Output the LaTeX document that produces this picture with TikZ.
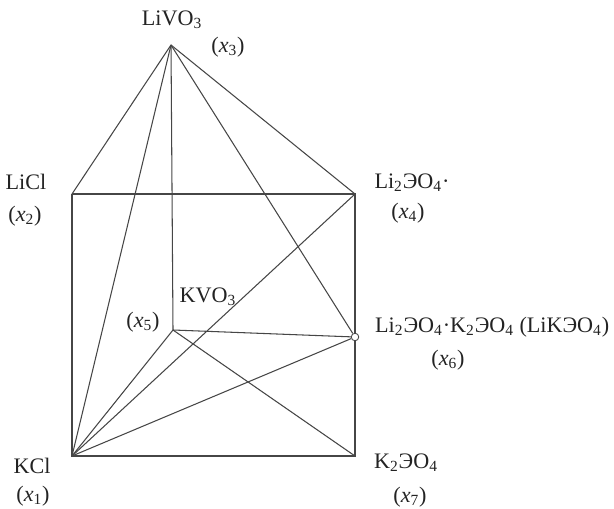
\documentclass[tikz,border=0pt]{standalone}
\usepackage{fontspec}
\setmainfont{Liberation Serif}
\usepackage{tikz}
\usepackage{xcolor}
\definecolor{linegray}{RGB}{70, 70, 70}
\definecolor{textgray}{RGB}{35, 35, 35}
\newcommand{\xlab}[1]{(\textit{x}\textsubscript{#1})}

\begin{document}
\begin{tikzpicture}[every node/.style={font=\fontsize{12.6}{15}\selectfont, text=textgray},
                    edge/.style={draw=linegray, line width=0.6pt},
                    pt/.style={circle, draw=linegray, fill=white, line width=0.5pt,
                               inner sep=0pt, minimum size=0.15cm}]
        \useasboundingbox (0,0) rectangle (12.28,10.16);

        % vertices of the prism
        \coordinate (livo) at (3.42,9.26);
        \coordinate (licl) at (1.44,6.28);
        \coordinate (li)   at (7.10,6.28);
        \coordinate (kvo)  at (3.46,3.56);
        \node[pt]  (lik)   at (7.10,3.42) {};
        \coordinate (kcl)  at (1.44,1.04);
        \coordinate (k)    at (7.10,1.04);

        % faces
        \draw[edge] (licl) -- (li) -- (lik) -- (k) -- (kcl) -- (licl);
        \draw[edge] (livo) -- (licl);
        \draw[edge] (livo) -- (li);
        \draw[edge] (livo) -- (kcl);
        \draw[edge] (livo) -- (kvo);
        \draw[edge] (livo) -- (lik);
        \draw[edge] (kcl)  -- (kvo);
        \draw[edge] (kcl)  -- (li);
        \draw[edge] (kcl)  -- (lik);
        \draw[edge] (kvo)  -- (lik);
        \draw[edge] (kvo)  -- (k);

        % labels
        \node (tlivo) at (3.44,9.76) {LiVO\textsubscript{3}};
        \node (xthree) at (4.56,9.22) {\xlab{3}};
        \node (tlicl) at (0.52,6.52) {LiCl};
        \node (xtwo) at (0.50,5.84) {\xlab{2}};
        \node (tli) at (8.24,6.50) {Li\textsubscript{2}ЭO\textsubscript{4}·};
        \node (xfour) at (8.16,5.90) {\xlab{4}};
        \node (tkvo) at (4.16,4.22) {KVO\textsubscript{3}};
        \node (xfive) at (2.86,3.72) {\xlab{5}};
        \node[anchor=west] (tlik) at (7.38,3.62)
          {Li\textsubscript{2}ЭO\textsubscript{4}·K\textsubscript{2}ЭO\textsubscript{4} (LiKЭO\textsubscript{4})};
        \node (xsix) at (8.96,2.96) {\xlab{6}};
        \node (tkcl) at (0.64,0.84) {KCl};
        \node (xone) at (0.66,0.24) {\xlab{1}};
        \node (tk) at (8.12,0.90) {K\textsubscript{2}ЭO\textsubscript{4}};
        \node (xseven) at (8.20,0.22) {\xlab{7}};
      \end{tikzpicture}
\end{document}
